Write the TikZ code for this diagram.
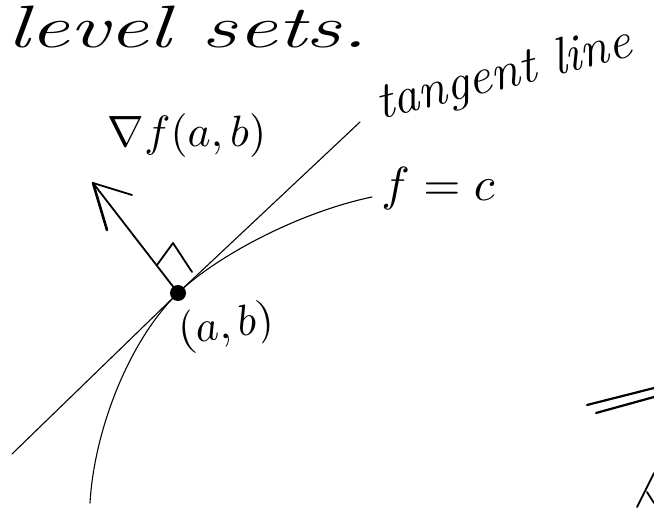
\documentclass[tikz,border=0pt]{standalone}
\usepackage{graphicx}
\begin{document}
\begin{tikzpicture}[x=1bp,y=-1bp,
  stroke/.style={line width=1.1bp, line cap=round, line join=round},
  heavy/.style={line width=1.8bp, line cap=round, line join=round},
  label/.style={inner sep=0pt, anchor=base}]
\useasboundingbox (0,0) rectangle (654,517);

% title
\node[inner sep=0pt, anchor=base west] (title) at (7,48)
  {\fontsize{60}{66}\selectfont\itshape\scalebox{1.48}[1]{level sets.}};

% point (a,b)
\node[circle, fill=black, inner sep=0pt, minimum size=16bp] (P) at (178,293) {};

% tangent line
\coordinate (tanLow) at (12,454);
\coordinate (tanHigh) at (360,122);
\draw[stroke] (tanLow) -- (P.center) -- (tanHigh);

% level curve f = c
\coordinate (curveLow) at (90,503);
\coordinate (curveHigh) at (372,197);
\draw[stroke] (curveLow) .. controls (94,432) and (128,341.5) .. (P.center)
  .. controls (218,255) and (300,212) .. (curveHigh);

% gradient vector
\coordinate (tip) at (93,183);
\coordinate (headA) at (132,195);
\coordinate (headB) at (107,230);
\draw[heavy] (P.center) -- (tip);
\draw[heavy] (tip) -- (headA);
\draw[line width=2.6bp, line cap=round] (tip) -- (headB);

% right-angle mark
\coordinate (raA) at (157,265);
\coordinate (raB) at (173,243);
\coordinate (raC) at (192,272);
\draw[heavy] (raA) -- (raB) -- (raC);

% labels
\node[label] (grad) at (187,147)
  {\scalebox{4.4}{$\nabla f(a,b)$}};
\node[label, rotate=8] (ab) at (228,338)
  {\scalebox{4.4}{$(a,b)$}};
\node[label] (fc) at (438,201)
  {\scalebox{4.8}{$f=c$}};
\node[label, rotate=14] (tl) at (507,88)
  {\fontsize{52}{56}\selectfont\itshape tangent line};

% strokes of a neighbouring sketch, cut off at the right edge
\coordinate (eqA1) at (587,405);
\coordinate (eqA2) at (654,388);
\coordinate (eqB1) at (596,413);
\coordinate (eqB2) at (654,397);
\draw[line width=2.2bp, line cap=round] (eqA1) -- (eqA2);
\draw[line width=2.2bp, line cap=round] (eqB1) -- (eqB2);
\coordinate (vA) at (637,507);
\coordinate (vB) at (654,473);
\coordinate (vC) at (647,492);
\coordinate (vD) at (654,503);
\draw[heavy] (vA) -- (vB);
\draw[heavy] (vC) -- (vD);
\end{tikzpicture}
\end{document}
